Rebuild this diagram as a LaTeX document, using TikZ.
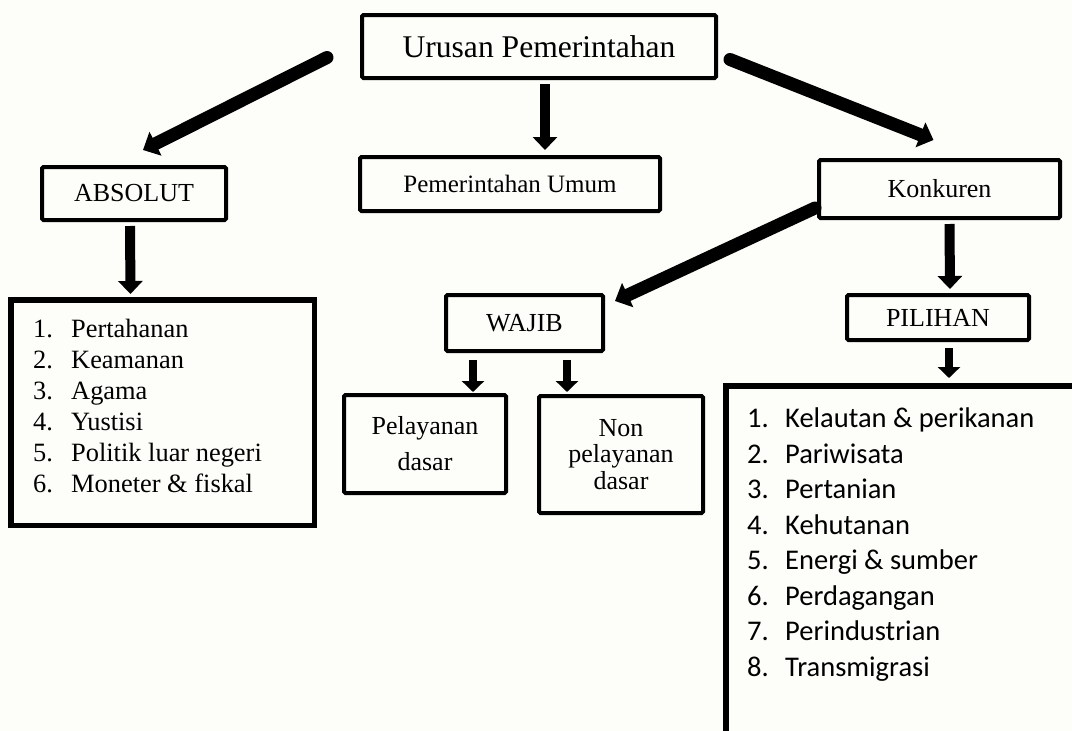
\documentclass[tikz,border=0pt]{standalone}
\usepackage{fontspec}
\setmainfont{Liberation Serif}
\newfontfamily\calibri{Carlito}
\usetikzlibrary{arrows.meta,positioning}
\definecolor{paper}{RGB}{253,253,249}

\begin{document}
\begin{tikzpicture}[x=1pt,y=-1pt]
\tikzstyle{every node}+=[inner sep=0pt]
\tikzstyle{box}=[draw=black, line width=4pt, rounded corners=1.5pt, align=center, font=\fontsize{26}{30}\selectfont]
\tikzstyle{listbox}=[draw=black, line width=5.5pt, anchor=north west]
\tikzstyle{bigarrow}=[line width=13pt, line cap=round, -{Triangle[length=14pt,width=26pt]}]
\tikzstyle{midarrow}=[line width=10pt, -{Triangle[length=13pt,width=24pt]}]
\tikzstyle{smallarrow}=[line width=8pt, -{Triangle[length=11pt,width=22pt]}]
\path[use as bounding box, fill=paper] (0,0) rectangle (1072,731);
\clip (0,0) rectangle (1072,731);
\node[box, minimum width=354pt, minimum height=63pt, font=\fontsize{31.6}{36}\selectfont] (root) at (539,46.5) {Urusan Pemerintahan};
\node[box, minimum width=184pt, minimum height=53pt] (absolut) at (134,193.5) {ABSOLUT};
\node[box, minimum width=300pt, minimum height=54pt, font=\fontsize{25}{30}\selectfont] (umum) at (510,184) {Pemerintahan Umum};
\node[box, minimum width=241pt, minimum height=58pt] (konkuren) at (939.5,189) {Konkuren};
\node[box, minimum width=157pt, minimum height=56pt] (wajib) at (524.5,323) {WAJIB};
\node[box, minimum width=182pt, minimum height=45pt] (pilihan) at (938,317.5) {PILIHAN};
\node[box, minimum width=162pt, minimum height=98pt, font=\fontsize{26}{36}\selectfont] (pelayanan) at (425,444) {Pelayanan\\dasar};
\node[box, minimum width=164pt, minimum height=117pt, font=\fontsize{26}{26.5}\selectfont] (nonpel) at (621,454.5) {Non\\pelayanan\\dasar};
\node[listbox, minimum width=303.5pt, minimum height=225.5pt] (absList) at (8,297) {};
\node[anchor=north west, align=left, font=\fontsize{26.4}{31}\selectfont] (absItems) at ([xshift=25pt,yshift=-22pt]absList.north west) {\makebox[38pt][l]{1.}Pertahanan\\
\makebox[38pt][l]{2.}Keamanan\\
\makebox[38pt][l]{3.}Agama\\
\makebox[38pt][l]{4.}Yustisi\\
\makebox[38pt][l]{5.}Politik luar negeri\\
\makebox[38pt][l]{6.}Moneter \& fiskal};
\node[listbox, minimum width=420pt, minimum height=420pt] (pilList) at (723,383) {};
\node[anchor=north west, align=left, font=\calibri\fontsize{28.5}{35.5}\selectfont] (pilItems) at ([xshift=24pt,yshift=-25pt]pilList.north west) {\makebox[38pt][l]{1.}Kelautan \& perikanan\\
\makebox[38pt][l]{2.}Pariwisata\\
\makebox[38pt][l]{3.}Pertanian\\
\makebox[38pt][l]{4.}Kehutanan\\
\makebox[38pt][l]{5.}Energi \& sumber\\
\makebox[38pt][l]{6.}Perdagangan\\
\makebox[38pt][l]{7.}Perindustrian\\
\makebox[38pt][l]{8.}Transmigrasi};
\draw[bigarrow] ([xshift=-33pt,yshift=-11pt]root.west) -- ([xshift=9pt,yshift=15pt]absolut.north);
\draw[midarrow] ([xshift=6pt,yshift=-4pt]root.south) -- ([xshift=35pt,yshift=5pt]umum.north);
\draw[bigarrow] ([xshift=12pt,yshift=-13pt]root.east) -- ([xshift=-6pt,yshift=18pt]konkuren.north);
\draw[bigarrow] ([xshift=-2pt,yshift=-19pt]konkuren.west) -- ([xshift=10pt,yshift=22pt]wajib.east);
\draw[midarrow] ([xshift=10pt,yshift=-4pt]konkuren.south) -- ([xshift=12pt,yshift=4pt]pilihan.north);
\draw[midarrow] ([xshift=-4pt,yshift=-4pt]absolut.south) -- ([xshift=-32pt,yshift=3pt]absList.north);
\draw[smallarrow] ([xshift=-51.5pt,yshift=-7pt]wajib.south) -- ([xshift=48pt,yshift=1pt]pelayanan.north);
\draw[smallarrow] ([xshift=42.5pt,yshift=-7pt]wajib.south) -- ([xshift=-54pt,yshift=2pt]nonpel.north);
\draw[smallarrow] ([xshift=11pt,yshift=-6pt]pilihan.south) -- ([xshift=11pt,yshift=5pt]pilihan.south |- pilList.north);
\end{tikzpicture}
\end{document}
